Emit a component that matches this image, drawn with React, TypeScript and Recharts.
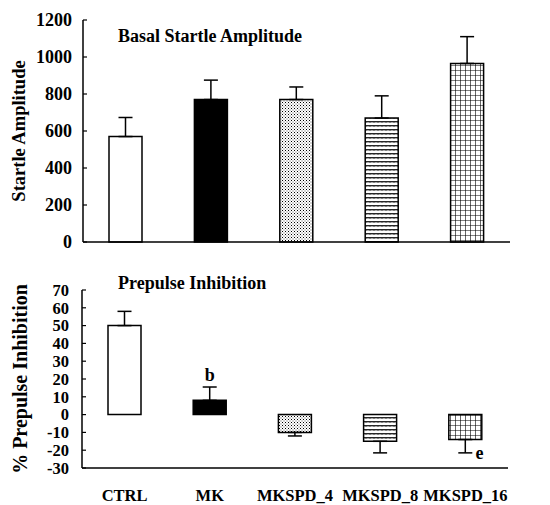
import React from 'react';
import { BarChart, Bar, XAxis, YAxis, Cell, ErrorBar, ReferenceDot } from 'recharts';

const groups = ['CTRL', 'MK', 'MKSPD_4', 'MKSPD_8', 'MKSPD_16'];
const startleMean = [570, 770, 770, 670, 965];
const startleSem = [103, 105, 68, 120, 145];
const ppiMean = [50, 8, -10, -15, -14];
const ppiSem = [8, 7.5, 2, 6.5, 7.5];
const ppiMarks = ['', 'b', '', '', 'e'];
const startleTicks = [0, 200, 400, 600, 800, 1000, 1200];
const ppiTicks = [-30, -20, -10, 0, 10, 20, 30, 40, 50, 60, 70];

const fills = ['#ffffff', '#000000', 'url(#dots)', 'url(#zigzag)', 'url(#grid)'];
const font = '"Liberation Serif", "Times New Roman", serif';

const startleData = groups.map((g, i) => ({
  group: g,
  value: startleMean[i],
  err: [0, startleSem[i]],
}));

const ppiData = groups.map((g, i) => ({
  group: g,
  value: ppiMean[i],
  // one-sided error bars: away from zero
  err: ppiMean[i] >= 0 ? [0, ppiSem[i]] : [ppiSem[i], 0],
}));

const tickStyle = { fontSize: 18, fontWeight: 700, fill: '#000', fontFamily: font };
const smallTick = { ...tickStyle, fontSize: 16.5 };

// rotated axis title, placed at a fixed distance from the page's left edge
const axisTitle = (text: string, size: number, left: number) => (props: any) => {
  const { y, height } = props.viewBox;
  const cx = left;
  const cy = y + height / 2;
  return (
    <text
      x={cx}
      y={cy}
      transform={`rotate(-90 ${cx} ${cy})`}
      textAnchor="middle"
      dominantBaseline="central"
      style={{ fontSize: size, fontWeight: 700, fontFamily: font, fill: '#000' }}
    >
      {text}
    </text>
  );
};

const App: React.FC = () => {
  return (
    <div style={{ position: 'absolute', left: 0, top: 0, width: 550, height: 505, background: '#fff' }}>
      <svg width={0} height={0} style={{ position: 'absolute' }}>
        <defs>
          <pattern id="dots" patternUnits="userSpaceOnUse" width={3} height={3}>
            <rect width={3} height={3} fill="#fff" />
            <rect x={0} y={0} width={1} height={1} fill="#000" />
            <rect x={1.5} y={1.5} width={1} height={1} fill="#555" />
          </pattern>
          <pattern id="zigzag" patternUnits="userSpaceOnUse" width={4} height={4}>
            <rect width={4} height={4} fill="#fff" />
            <path d="M0 2.6 L1 1 L2 2.6 L3 1 L4 2.6" stroke="#000" strokeWidth={1} fill="none" />
          </pattern>
          <pattern id="grid" patternUnits="userSpaceOnUse" width={5} height={5}>
            <rect width={5} height={5} fill="#fff" />
            <path d="M0 0 L5 0 M0 0 L0 5" stroke="#000" strokeWidth={1.2} fill="none" />
          </pattern>
        </defs>
      </svg>

      <div style={{ position: 'absolute', left: 0, top: 0 }}>
        <BarChart width={550} height={260} data={startleData} margin={{ top: 20, right: 40, bottom: 0, left: 0 }}>
          <XAxis dataKey="group" tick={false} tickLine={false} height={18} axisLine={{ stroke: '#000', strokeWidth: 1.5 }} />
          <YAxis
            width={83}
            domain={[0, 1200]}
            ticks={startleTicks}
            interval={0}
            tick={tickStyle}
            tickSize={-4}
            tickMargin={15}
            tickLine={{ stroke: '#000', strokeWidth: 1.2 }}
            axisLine={{ stroke: '#000', strokeWidth: 1.5 }}
            label={{ content: axisTitle('Startle Amplitude', 18.5, 19) }}
          />
          <Bar dataKey="value" barSize={33} stroke="#000" strokeWidth={1.5} isAnimationActive={false}>
            {startleData.map((d, i) => (
              <Cell key={d.group} fill={fills[i]} />
            ))}
            <ErrorBar dataKey="err" width={7} stroke="#000" strokeWidth={1.5} direction="y" />
          </Bar>
        </BarChart>
      </div>

      <div style={{ position: 'absolute', left: 0, top: 260 }}>
        <BarChart width={550} height={245} data={ppiData} margin={{ top: 30, right: 42, bottom: 0, left: 0 }}>
          <XAxis
            dataKey="group"
            height={37}
            interval={0}
            tick={smallTick}
            tickLine={false}
            tickSize={6}
            tickMargin={15}
            axisLine={{ stroke: '#000', strokeWidth: 1.5 }}
          />
          <YAxis
            width={82}
            domain={[-30, 70]}
            ticks={ppiTicks}
            interval={0}
            tick={smallTick}
            tickSize={-4}
            tickMargin={17}
            tickLine={{ stroke: '#000', strokeWidth: 1.2 }}
            axisLine={{ stroke: '#000', strokeWidth: 1.5 }}
            label={{ content: axisTitle('% Prepulse Inhibition', 20, 20) }}
          />
          <Bar dataKey="value" barSize={33} stroke="#000" strokeWidth={1.5} isAnimationActive={false}>
            {ppiData.map((d, i) => (
              <Cell key={d.group} fill={fills[i]} />
            ))}
            <ErrorBar dataKey="err" width={7} stroke="#000" strokeWidth={1.5} direction="y" />
          </Bar>
          {groups.map((g, i) =>
            ppiMarks[i] ? (
              <ReferenceDot
                key={g}
                x={g}
                y={ppiMean[i] >= 0 ? ppiMean[i] + ppiSem[i] : ppiMean[i] - ppiSem[i]}
                r={0}
                fill="none"
                stroke="none"
                label={{
                  value: ppiMarks[i],
                  position: ppiMean[i] >= 0 ? 'top' : 'right',
                  offset: ppiMean[i] >= 0 ? 6 : 10,
                  style: { fontSize: 18, fontWeight: 700, fontFamily: font, fill: '#000' },
                }}
              />
            ) : null
          )}
        </BarChart>
      </div>

      <svg width={550} height={505} style={{ position: 'absolute', left: 0, top: 0, pointerEvents: 'none' }}>
        <text x={118} y={42} style={{ fontSize: 18, fontWeight: 700, fontFamily: font }}>
          Basal Startle Amplitude
        </text>
        <text x={118} y={289} style={{ fontSize: 18, fontWeight: 700, fontFamily: font }}>
          Prepulse Inhibition
        </text>
      </svg>
    </div>
  );
};

export default App;
